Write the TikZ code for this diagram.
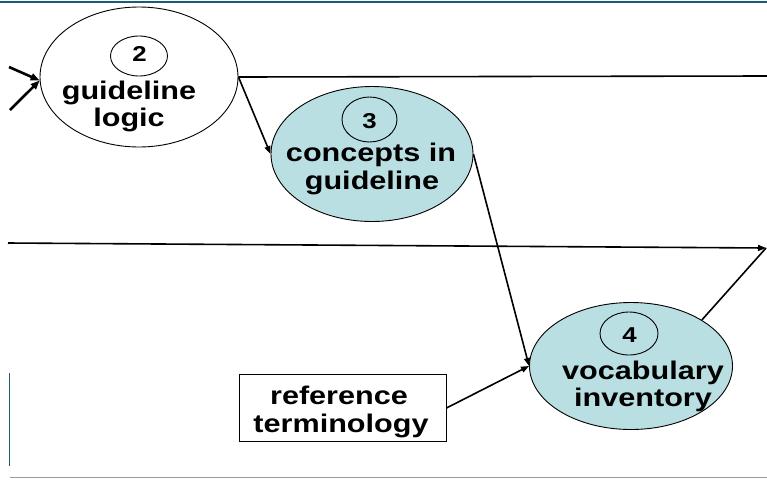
\documentclass[tikz,border=0pt]{standalone}
\usepackage{fontspec}
\setmainfont{Liberation Sans}
\newfontfamily\widesans[FakeStretch=1.2]{Liberation Sans}
\usetikzlibrary{shapes.geometric,arrows.meta}
\definecolor{frameteal}{HTML}{1D5B79}
\definecolor{stepfill}{HTML}{BADFE3}
\definecolor{rulegrey}{HTML}{9A9A9A}
\tikzset{
  stage/.style={ellipse,draw=black,line width=0.9pt,inner sep=0pt},
  numring/.style={ellipse,draw=black,line width=0.9pt,inner sep=0pt},
  numtext/.style={font=\widesans\bfseries\fontsize{21.5}{22}\selectfont,anchor=base,inner sep=0pt},
  labeltext/.style={font=\widesans\bfseries\fontsize{25.5}{26}\selectfont,anchor=base,inner sep=0pt},
  srcbox/.style={rectangle,draw=black,line width=0.9pt,inner sep=0pt,minimum width=207pt,minimum height=67pt},
  flow/.style={line width=1.6pt,-{Triangle[length=8pt,width=6pt]}},
  plain/.style={line width=1.6pt},
  inflow/.style={line width=2.6pt,-{Triangle[length=9pt,width=7pt]}},
}
\begin{document}
\begin{tikzpicture}[x=1pt,y=-1pt]
\useasboundingbox (0,0) rectangle (767,480);
\fill[white] (0,0) rectangle (767,480);

% frame rules
\draw[frameteal,line width=2pt] (0,1.5) -- (767,1.5);
\draw[rulegrey,line width=1.5pt] (10,477.5) -- (767,477.5);
\draw[frameteal,line width=1.2pt] (9.5,373) -- (9.5,466);

% stages
\node[stage,fill=white,minimum width=198pt,minimum height=140pt] (g2) at (139,77) {};
\node[stage,fill=stepfill,minimum width=202pt,minimum height=135pt] (g3) at (372,154) {};
\node[stage,fill=stepfill,minimum width=203pt,minimum height=127pt] (g4) at (631,366) {};
\node[srcbox] (ref) at (342.5,408) {};

% numbered rings
\node[numring,minimum width=57pt,minimum height=40pt] (c2) at (139,56) {};
\node[numring,minimum width=55pt,minimum height=45pt] (c3) at (369.5,119.5) {};
\node[numring,minimum width=58pt,minimum height=43pt] (c4) at (629,333.5) {};
\node[numtext] (d2) at (139.5,61.5) {2};
\node[numtext] (d3) at (369.5,128) {3};
\node[numtext] (d4) at (629.5,342.5) {4};

% labels
\node[labeltext] (l2a) at (129,99) {guideline};
\node[labeltext] (l2b) at (129,126) {logic};
\node[labeltext] (l3a) at (371,161) {concepts in};
\node[labeltext] (l3b) at (372,189) {guideline};
\node[labeltext] (l4a) at (643,379) {vocabulary};
\node[labeltext] (l4b) at (643,406.5) {inventory};
\node[labeltext] (lra) at (339,404.5) {reference};
\node[labeltext] (lrb) at (341,432.5) {terminology};

% loose ends
\coordinate (inA) at (9,67);
\coordinate (inB) at (10,110);
\coordinate (topR) at (767,76);
\coordinate (midL) at (8,243);
\coordinate (midR) at (766,248);

% connectors
\draw[inflow] (inA) -- (g2.182);
\draw[inflow] (inB) -- (g2.182);
\draw[plain] (g2.east) -- (topR);
\draw[flow] (g2.east) -- (g3.west);
\draw[flow] (midL) -- (midR);
\draw[flow] (g3.east) -- (g4.west);
\draw[flow] (ref.east) -- (g4.west);
\draw[plain] (g4.33) -- (midR);
\end{tikzpicture}
\end{document}
